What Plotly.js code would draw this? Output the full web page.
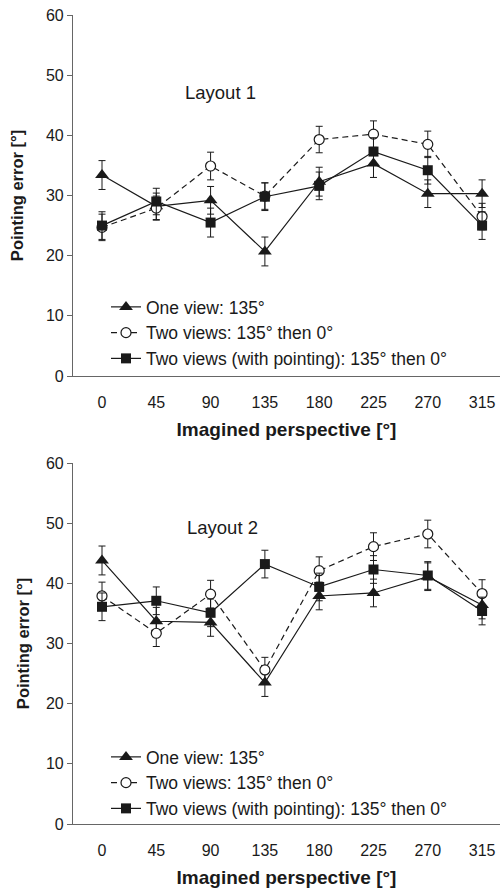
<!DOCTYPE html>
<html>
<head>
<meta charset="utf-8">
<script src="https://cdn.plot.ly/plotly-3.0.1.min.js"></script>
<style>html,body{margin:0;padding:0;background:#fff;}#chart{width:500px;height:893px;}</style>
</head>
<body>
<div id="chart"></div>
<script>
// Categories (imagined perspective, degrees)
const categories = ['0', '45', '90', '135', '180', '225', '270', '315'];
const seriesNames = ['One view: 135°', 'Two views: 135° then 0°', 'Two views (with pointing): 135° then 0°'];

// Layout 1
const l1OneView = [33.4, 28.2, 29.2, 20.7, 32.3, 35.3, 30.3, 30.3];
const l1OneViewErr = [2.4, 2.2, 2.3, 2.4, 2.4, 2.3, 2.3, 2.3];
const l1TwoViews = [24.7, 27.9, 34.9, 29.9, 39.3, 40.2, 38.5, 26.5];
const l1TwoViewsErr = [2.2, 2.0, 2.3, 2.2, 2.2, 2.2, 2.2, 2.2];
const l1Pointing = [25.0, 29.0, 25.5, 29.8, 31.6, 37.3, 34.2, 25.0];
const l1PointingErr = [2.3, 2.2, 2.4, 2.3, 2.3, 2.3, 2.3, 2.3];

// Layout 2
const l2OneView = [43.8, 33.7, 33.5, 23.5, 37.9, 38.4, 41.1, 36.4];
const l2OneViewErr = [2.4, 2.3, 2.3, 2.3, 2.3, 2.3, 2.3, 2.3];
const l2TwoViews = [37.9, 31.7, 38.2, 25.6, 42.1, 46.1, 48.2, 38.3];
const l2TwoViewsErr = [2.3, 2.2, 2.3, 2.1, 2.3, 2.3, 2.3, 2.3];
const l2Pointing = [36.1, 37.1, 35.1, 43.2, 39.4, 42.3, 41.3, 35.4];
const l2PointingErr = [2.3, 2.3, 2.3, 2.3, 2.3, 2.3, 2.3, 2.3];

const xIdx = categories.map((c, i) => i);
const FONT = 'Liberation Sans, Arial, sans-serif';
const INK = '#1a1a1a';

function mk(y, err, name, style, xa, ya, legend) {
  const markers = {
    tri: {symbol: 'triangle-up', size: 12, color: INK, line: {width: 0}},
    circ: {symbol: 'circle', size: 10, color: '#ffffff', line: {width: 1.2, color: INK}},
    sq: {symbol: 'square', size: 10, color: INK, line: {width: 0}}
  };
  return {
    type: 'scatter', mode: 'lines+markers', name: name,
    x: xIdx, y: y, xaxis: xa, yaxis: ya, legend: legend,
    line: {color: INK, width: 1.2, dash: style === 'circ' ? '6px,4px' : 'solid'},
    marker: markers[style],
    error_y: {type: 'data', array: err, visible: true, color: INK, thickness: 1, width: 3.5},
    cliponaxis: false
  };
}

const traces = [
  mk(l1OneView, l1OneViewErr, seriesNames[0], 'tri', 'x', 'y', 'legend'),
  mk(l1TwoViews, l1TwoViewsErr, seriesNames[1], 'circ', 'x', 'y', 'legend'),
  mk(l1Pointing, l1PointingErr, seriesNames[2], 'sq', 'x', 'y', 'legend'),
  mk(l2OneView, l2OneViewErr, seriesNames[0], 'tri', 'x2', 'y2', 'legend2'),
  mk(l2TwoViews, l2TwoViewsErr, seriesNames[1], 'circ', 'x2', 'y2', 'legend2'),
  mk(l2Pointing, l2PointingErr, seriesNames[2], 'sq', 'x2', 'y2', 'legend2')
];

const H = 893;
const topDom = [1 - 376 / H, 1 - 15 / H];
const botDom = [1 - 824 / H, 1 - 463 / H];
const xRange = [-0.534, 7.33];

function xax(anchor, dom) {
  return {
    anchor: anchor, domain: [0, 1], range: xRange,
    tickvals: xIdx, ticktext: categories,
    showgrid: false, zeroline: false, showline: true, linecolor: '#666', linewidth: 1.2,
    ticks: '', ticklabelstandoff: 12,
    tickfont: {family: FONT, size: 16, color: INK},
    title: {text: 'Imagined perspective [°]', font: {family: FONT, size: 19, weight: 'bold', color: INK}, standoff: 12}
  };
}
function yax(anchor, dom, standoff) {
  return {
    anchor: anchor, domain: dom, range: [0, 60], dtick: 10,
    showgrid: false, zeroline: false, showline: true, linecolor: '#666', linewidth: 1.2,
    ticks: 'outside', ticklen: 5, tickcolor: '#666',
    tickfont: {family: FONT, size: 16, color: INK},
    title: {text: 'Pointing error [°]', font: {family: FONT, size: 16.5, weight: 'bold', color: INK}, standoff: standoff}
  };
}
function leg(yTopPx) {
  return {
    x: (106 - 73) / 427, xanchor: 'left', y: 1 - yTopPx / H, yanchor: 'top',
    bgcolor: 'rgba(0,0,0,0)', borderwidth: 0,
    font: {family: FONT, size: 17.5, color: INK}, itemwidth: 30
  };
}

const layout = {
  width: 500, height: 893,
  margin: {l: 73, r: 0, t: 0, b: 0},
  paper_bgcolor: '#fff', plot_bgcolor: '#fff',
  font: {family: FONT, color: INK},
  showlegend: true,
  xaxis: xax('y', topDom),
  yaxis: yax('x', topDom, 18),
  xaxis2: xax('y2', botDom),
  yaxis2: yax('x2', botDom, 12),
  legend: leg(289),
  legend2: leg(739),
  annotations: [
    {text: 'Layout 1', x: 220, y: 80, xref: 'paper', yref: 'paper', showarrow: false,
     font: {family: FONT, size: 18.5, color: INK}},
    {text: 'Layout 2', x: 222, y: 527, xref: 'paper', yref: 'paper', showarrow: false,
     font: {family: FONT, size: 18.5, color: INK}}
  ].map(a => Object.assign(a, {x: (a.x - 73) / 427, y: 1 - a.y / H}))
};

Plotly.newPlot('chart', traces, layout, {displayModeBar: false, responsive: false});
</script>
</body>
</html>
